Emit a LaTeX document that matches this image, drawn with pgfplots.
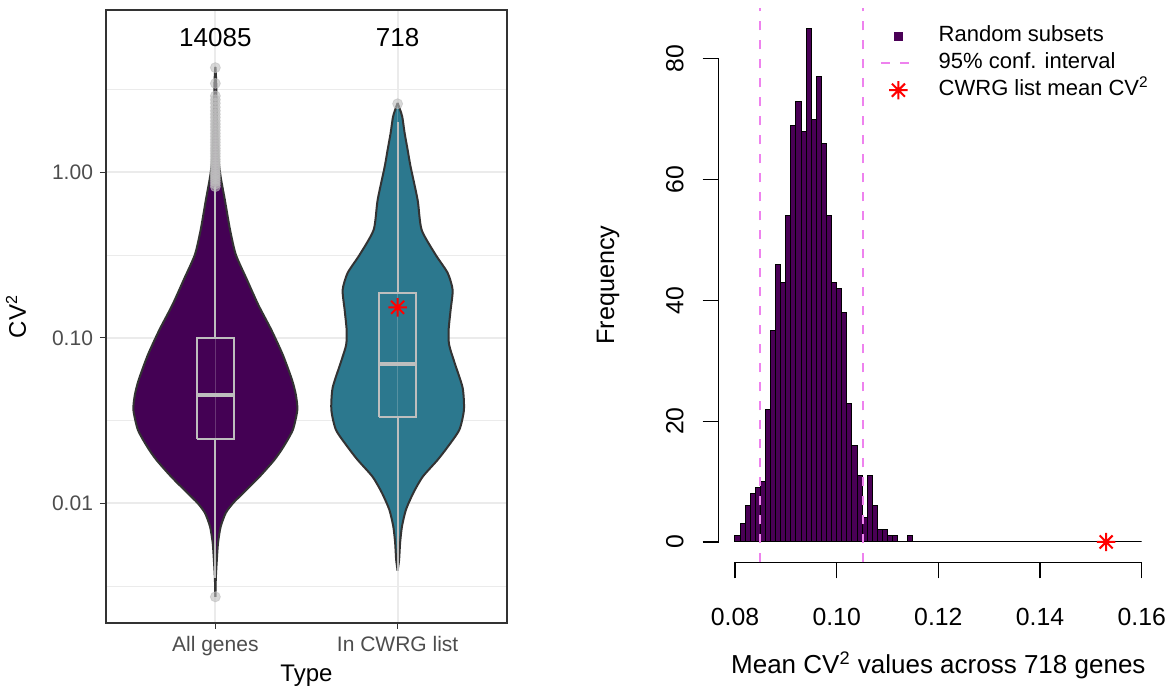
\documentclass[border=0pt]{standalone}
\usepackage{fontspec}
\setmainfont{Liberation Sans}
\usepackage{pgfplots}
\usepackage{pgfplotstable}
\pgfplotsset{compat=1.18}

\definecolor{allfill}{HTML}{440154}
\definecolor{cwrgfill}{HTML}{2C788E}
\definecolor{vline}{HTML}{333333}
\definecolor{boxgray}{HTML}{BEBEBE}
\definecolor{gridc}{HTML}{EBEBEB}
\definecolor{tickgray}{HTML}{4D4D4D}
\definecolor{histfill}{HTML}{4A0056}
\definecolor{civiolet}{HTML}{EE82EE}

% eight-armed asterisk (plus and cross together)
\pgfdeclareplotmark{star8}{%
  \pgfpathmoveto{\pgfqpoint{-\pgfplotmarksize}{0pt}}%
  \pgfpathlineto{\pgfqpoint{\pgfplotmarksize}{0pt}}%
  \pgfpathmoveto{\pgfqpoint{0pt}{-\pgfplotmarksize}}%
  \pgfpathlineto{\pgfqpoint{0pt}{\pgfplotmarksize}}%
  \pgfpathmoveto{\pgfqpoint{-.7071\pgfplotmarksize}{-.7071\pgfplotmarksize}}%
  \pgfpathlineto{\pgfqpoint{.7071\pgfplotmarksize}{.7071\pgfplotmarksize}}%
  \pgfpathmoveto{\pgfqpoint{-.7071\pgfplotmarksize}{.7071\pgfplotmarksize}}%
  \pgfpathlineto{\pgfqpoint{.7071\pgfplotmarksize}{-.7071\pgfplotmarksize}}%
  \pgfusepathqstroke}

% violin half-widths (category units) against CV^2
\pgfplotstableread{
y w
0.00272 0
0.00355 0.0027
0.00456 0.0082
0.00578 0.0148
0.00722 0.0291
0.00877 0.0576
0.01007 0.0987
0.01156 0.1536
0.01445 0.2414
0.0183 0.3236
0.0219 0.3730
0.0278 0.4251
0.0367 0.4498
0.0453 0.4416
0.0557 0.4207
0.0789 0.3703
0.1117 0.3072
0.158 0.2359
0.224 0.1739
0.318 0.1125
0.450 0.0806
0.682 0.0521
0.939 0.0291
1.19 0.0176
1.57 0.0121
2.08 0.0088
2.74 0.0066
3.62 0.0044
4.34 0
}\allviolin

\pgfplotstableread{
y w
0.00391 0
0.00456 0.0082
0.00578 0.0137
0.00722 0.0236
0.00914 0.0455
0.01156 0.0861
0.01445 0.1371
0.0183 0.2194
0.0219 0.2743
0.0278 0.3385
0.0367 0.3637
0.0499 0.3566
0.0706 0.3127
0.0907 0.2825
0.1117 0.2798
0.1476 0.2907
0.195 0.3017
0.247 0.2743
0.318 0.2084
0.450 0.1316
0.682 0.1097
1.08 0.0713
1.37 0.0549
1.73 0.0384
2.16 0.0258
2.39 0.0137
2.63 0
}\cwrgviolin

% counts of random subsets per 0.001 bin (left edges)
\pgfplotstableread{
x n
0.080 1
0.081 3
0.082 6
0.083 8
0.084 9
0.085 10
0.086 22
0.087 35
0.088 46
0.089 43
0.090 54
0.091 69
0.092 73
0.093 68
0.094 85
0.095 70
0.096 77
0.097 66
0.098 54
0.099 43
0.100 42
0.101 38
0.102 23
0.103 16
0.104 11
0.105 4
0.106 11
0.107 6
0.108 2
0.109 2
0.110 1
0.111 1
0.112 0
0.113 0
0.114 1
0.115 0
0.116 0
0.117 0
0.118 0
0.119 0
0.120 0
0.121 0
0.122 0
0.123 0
0.124 0
0.125 0
0.126 0
0.127 0
0.128 0
0.129 0
0.130 0
0.131 0
0.132 0
0.133 0
0.134 0
0.135 0
0.136 0
0.137 0
0.138 0
0.139 0
0.140 0
0.141 0
0.142 0
0.143 0
0.144 0
0.145 0
0.146 0
0.147 0
0.148 0
0.149 0
0.150 0
0.151 0
0.152 0
0.153 0
0.154 0
0.155 0
0.156 0
0.157 0
0.158 0
0.159 0
0.160 0
}\histtab

\begin{document}
\begin{tikzpicture}
\path[use as bounding box] (0,0) rectangle (587.5pt,345.5pt);

% ---------------- violin panel ----------------
\begin{axis}[
  at={(53pt,34pt)}, anchor=south west,
  scale only axis, width=200.5pt, height=306.5pt,
  xmin=0.4, xmax=2.6,
  ymode=log, ymin=0.00189, ymax=9.59,
  xtick={1,2}, xticklabels={All genes,In CWRG list},
  ytick={0.01,0.1,1}, yticklabels={0.01,0.10,1.00},
  minor ytick={0.003162,0.03162,0.3162,3.162},
  xmajorgrids, ymajorgrids, yminorgrids,
  major grid style={draw=gridc, line width=1pt},
  minor grid style={draw=gridc, line width=0.5pt},
  axis line style={draw=vline, line width=0.6pt},
  tick pos=left, tick align=outside,
  major tick length=3pt, minor tick length=0pt,
  tick style={draw=vline, line width=0.6pt},
  ticklabel style={font=\fontsize{10.5}{12}\selectfont, text=tickgray},
  xlabel={Type}, ylabel={CV\textsuperscript{2}},
  xlabel style={at={(rel axis cs:0.5,-0.0865)}, anchor=center,
    font=\fontsize{12}{14}\selectfont},
  ylabel style={at={(rel axis cs:-0.2245,0.5)}, anchor=center,
    font=\fontsize{12}{14}\selectfont},
]
% All genes: two filled halves, then the outline
\addplot[fill=allfill, draw=none, smooth, tension=0.4]
  table[x expr=1+\thisrow{w}, y=y] {\allviolin} -- cycle;
\addplot[fill=allfill, draw=none, smooth, tension=0.4]
  table[x expr=1-\thisrow{w}, y=y] {\allviolin} -- cycle;
\addplot[draw=vline, line width=1pt, smooth, tension=0.4]
  table[x expr=1+\thisrow{w}, y=y] {\allviolin};
\addplot[draw=vline, line width=1pt, smooth, tension=0.4]
  table[x expr=1-\thisrow{w}, y=y] {\allviolin};
% In CWRG list
\addplot[fill=cwrgfill, draw=none, smooth, tension=0.4]
  table[x expr=2+\thisrow{w}, y=y] {\cwrgviolin} -- cycle;
\addplot[fill=cwrgfill, draw=none, smooth, tension=0.4]
  table[x expr=2-\thisrow{w}, y=y] {\cwrgviolin} -- cycle;
\addplot[draw=vline, line width=1pt, smooth, tension=0.4]
  table[x expr=2+\thisrow{w}, y=y] {\cwrgviolin};
\addplot[draw=vline, line width=1pt, smooth, tension=0.4]
  table[x expr=2-\thisrow{w}, y=y] {\cwrgviolin};

% box plots
\addplot[boxgray, line width=1pt] coordinates {(1,0.0995) (1,0.82)};
\addplot[boxgray, line width=1pt] coordinates {(1,0.0244) (1,0.00355)};
\addplot[boxgray, line width=1pt] coordinates {(0.9,0.0244) (1.1,0.0244) (1.1,0.0995) (0.9,0.0995) (0.9,0.0244)};
\addplot[boxgray, line width=2pt] coordinates {(0.9,0.0453) (1.1,0.0453)};

\addplot[boxgray, line width=1pt] coordinates {(2,0.186) (2,2.03)};
\addplot[boxgray, line width=1pt] coordinates {(2,0.0334) (2,0.00391)};
\addplot[boxgray, line width=1pt] coordinates {(1.9,0.0334) (2.1,0.0334) (2.1,0.186) (1.9,0.186) (1.9,0.0334)};
\addplot[boxgray, line width=2pt] coordinates {(1.9,0.0697) (2.1,0.0697)};

% outliers
\addplot[only marks, mark=*, mark size=2.5pt,
  mark options={fill=boxgray, draw=boxgray, fill opacity=0.6, draw opacity=0.6}]
  coordinates {
  (1,0.00272)
  (1,0.82) (1,0.85) (1,0.88) (1,0.91) (1,0.94) (1,0.97) (1,1.00) (1,1.04)
  (1,1.08) (1,1.12) (1,1.16) (1,1.20) (1,1.25) (1,1.30) (1,1.35) (1,1.40)
  (1,1.46) (1,1.52) (1,1.58) (1,1.65) (1,1.72) (1,1.80) (1,1.88) (1,1.96)
  (1,2.05) (1,2.15) (1,2.25) (1,2.36) (1,2.48) (1,2.62) (1,2.75) (1,2.90)
  (1,3.45) (1,4.30)
  (2,2.60)};

% mean CV^2 of the CWRG list
\addplot[only marks, mark=star8, mark size=4.6pt, red, line width=1pt] coordinates {(2,0.153)};

\node[font=\fontsize{13}{15}\selectfont] at (axis cs:1,6.5) {14085};
\node[font=\fontsize{13}{15}\selectfont] at (axis cs:2,6.5) {718};
\end{axis}

% ---------------- histogram panel ----------------
\begin{axis}[
  at={(359.35pt,64.25pt)}, anchor=south west,
  scale only axis, width=219.65pt, height=277.25pt,
  xmin=0.0768, xmax=0.1632, ymin=-3.4, ymax=88.4,
  axis x line*=bottom, axis y line*=left,
  axis line style={draw=none},
  xtick={0.08,0.10,0.12,0.14,0.16}, xticklabels={0.08,0.10,0.12,0.14,0.16},
  ytick={0,20,40,60,80}, yticklabels={0,20,40,60,80},
  tick align=outside, major tick length=8pt,
  tick style={draw=black, line width=0.6pt},
  ticklabel style={font=\fontsize{12.4}{14}\selectfont},
  xticklabel style={yshift=-11.5pt},
  yticklabel style={rotate=90, yshift=6pt},
  xlabel={Mean CV\textsuperscript{2} values across 718 genes},
  ylabel={Frequency},
  xlabel style={at={(rel axis cs:0.5,-0.1849)}, anchor=center,
    font=\fontsize{13}{15}\selectfont},
  ylabel style={at={(rel axis cs:-0.252,0.5)}, anchor=center,
    font=\fontsize{12.6}{15}\selectfont},
  clip=false,
  legend cell align=left,
  legend style={draw=none, fill=none, at={(0.353,0.976)}, anchor=north west,
    font=\fontsize{11}{13}\selectfont, row sep=3pt, column sep=11pt,
    nodes={inner sep=0pt, text height=8pt, text depth=2.5pt}},
]
% axis lines spanning the tick range only
\draw[black, line width=0.6pt] (axis cs:0.08,-3.4) -- (axis cs:0.16,-3.4);
\draw[black, line width=0.6pt] (axis cs:0.0768,0) -- (axis cs:0.0768,80);

\addplot[ybar interval, fill=histfill, draw=black, line width=0.5pt,
  legend image code/.code={\fill[histfill] (0.3cm-1.9pt,-1.9pt) rectangle (0.3cm+1.9pt,1.9pt);}]
  table[x=x, y=n] {\histtab};
\addlegendentry{Random subsets}

\addplot[civiolet, line width=1.2pt, dash pattern=on 4.5pt off 5pt]
  coordinates {(0.0849,-3.4) (0.0849,88.4)};
\addlegendentry{95\% conf. interval}
\addplot[civiolet, line width=1.2pt, dash pattern=on 4.5pt off 5pt, forget plot]
  coordinates {(0.1052,-3.4) (0.1052,88.4)};

\addplot[only marks, mark=star8, mark size=4.6pt, red, line width=1pt] coordinates {(0.153,0)};
\addlegendentry{CWRG list mean CV\textsuperscript{2}}
\end{axis}
\end{tikzpicture}
\end{document}
